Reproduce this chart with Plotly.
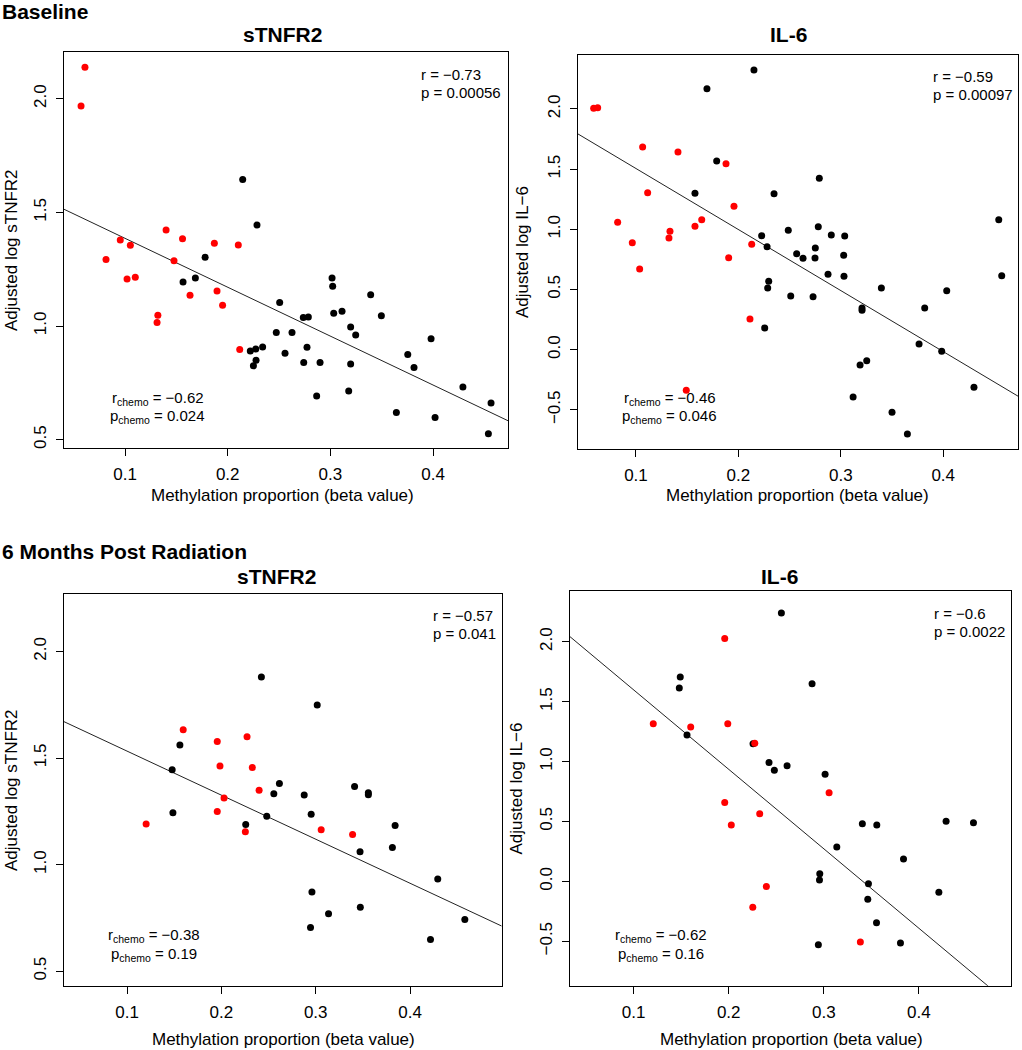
import plotly.graph_objects as go

W, H = 1022, 1050

# ---------------- DATA ----------------
# Baseline sTNFR2
b_stnfr2_red_x = [0.061, 0.0572, 0.140, 0.0954, 0.1052, 0.156, 0.187, 0.2103, 0.0815,
                  0.1477, 0.102, 0.110, 0.1633, 0.1896, 0.195, 0.132, 0.1312, 0.2117]
b_stnfr2_red_y = [2.138, 1.968, 1.422, 1.378, 1.355, 1.384, 1.364, 1.356, 1.293,
                  1.287, 1.207, 1.214, 1.135, 1.154, 1.091, 1.047, 1.015, 0.897]
b_stnfr2_blk_x = [0.2146, 0.2285, 0.178, 0.1565, 0.1685, 0.2506, 0.3016, 0.3022, 0.3032, 0.3113,
                  0.3392, 0.3496, 0.2736, 0.2785, 0.3197, 0.3246, 0.2473, 0.2626, 0.222, 0.2273,
                  0.234, 0.2276, 0.225, 0.2558, 0.2772, 0.274, 0.2899, 0.3197, 0.398, 0.3753,
                  0.3814, 0.2866, 0.3178, 0.429, 0.4564, 0.3642, 0.4019, 0.4538]
b_stnfr2_blk_y = [1.645, 1.444, 1.302, 1.194, 1.211, 1.103, 1.211, 1.175, 1.056, 1.065,
                  1.138, 1.045, 1.037, 1.040, 0.996, 0.960, 0.971, 0.971, 0.890, 0.899,
                  0.908, 0.849, 0.825, 0.880, 0.906, 0.840, 0.839, 0.833, 0.944, 0.875,
                  0.818, 0.692, 0.714, 0.732, 0.661, 0.619, 0.597, 0.526]
b_stnfr2_fit = (1.601, -2.152)  # intercept, slope

# Baseline IL-6
b_il6_red_x = [0.0587, 0.0626, 0.1065, 0.141, 0.1879, 0.1114, 0.1957, 0.0821, 0.1642,
               0.1576, 0.1332, 0.1322, 0.0964, 0.213, 0.1905, 0.1036, 0.2113, 0.1491]
b_il6_red_y = [2.005, 2.010, 1.684, 1.642, 1.545, 1.304, 1.191, 1.058, 1.080,
               1.025, 0.983, 0.928, 0.889, 0.875, 0.764, 0.670, 0.255, -0.337]
b_il6_blk_x = [0.2152, 0.1693, 0.1788, 0.279, 0.1576, 0.2348, 0.4542, 0.278, 0.2487, 0.2227,
               0.2907, 0.3038, 0.228, 0.2751, 0.2569, 0.2631, 0.2748, 0.3028, 0.2875, 0.3031,
               0.4571, 0.2296, 0.2286, 0.3396, 0.4034, 0.2511, 0.2729, 0.3819, 0.3207, 0.3207,
               0.2257, 0.3764, 0.3985, 0.3188, 0.3253, 0.312, 0.430, 0.350, 0.365]
b_il6_blk_y = [2.323, 2.168, 1.567, 1.424, 1.299, 1.296, 1.080, 1.022, 0.992, 0.947,
               0.953, 0.944, 0.855, 0.845, 0.797, 0.759, 0.762, 0.784, 0.626, 0.610,
               0.615, 0.568, 0.512, 0.512, 0.490, 0.446, 0.440, 0.346, 0.346, 0.327,
               0.180, 0.047, -0.012, -0.127, -0.091, -0.393, -0.313, -0.520, -0.700]
b_il6_fit = (2.012, -5.07)

# 6 months sTNFR2
m_stnfr2_red_x = [0.1595, 0.1956, 0.2272, 0.1985, 0.2328, 0.240, 0.2028, 0.1956, 0.1202,
                  0.2254, 0.3058, 0.3391]
m_stnfr2_red_y = [1.633, 1.578, 1.600, 1.462, 1.456, 1.349, 1.312, 1.249, 1.191,
                  1.154, 1.163, 1.141]
m_stnfr2_blk_x = [0.2424, 0.3016, 0.156, 0.1478, 0.2615, 0.2556, 0.2878, 0.3412, 0.3558, 0.3558,
                  0.1486, 0.2481, 0.2952, 0.2258, 0.3842, 0.3813, 0.347, 0.4294, 0.296, 0.3473,
                  0.3136, 0.4581, 0.2945, 0.4217]
m_stnfr2_blk_y = [1.880, 1.749, 1.561, 1.445, 1.381, 1.332, 1.326, 1.367, 1.337, 1.328,
                  1.243, 1.227, 1.236, 1.188, 1.183, 1.080, 1.060, 0.933, 0.872, 0.800,
                  0.770, 0.743, 0.705, 0.649]
m_stnfr2_fit = (1.739, -2.066)

# 6 months IL-6
m_il6_red_x = [0.1958, 0.1206, 0.160, 0.199, 0.2274, 0.3056, 0.1958, 0.2326, 0.2027,
               0.2396, 0.2253, 0.3385]
m_il6_red_y = [2.028, 1.316, 1.288, 1.316, 1.152, 0.740, 0.659, 0.564, 0.470,
               -0.042, -0.217, -0.507]
m_il6_blk_x = [0.2554, 0.149, 0.148, 0.2877, 0.1561, 0.2256, 0.2424, 0.248, 0.2614, 0.3014,
               0.3406, 0.3558, 0.4287, 0.4575, 0.3137, 0.3839, 0.2958, 0.2955, 0.347, 0.3463,
               0.4211, 0.3555, 0.2943, 0.3807]
m_il6_blk_y = [2.240, 1.705, 1.613, 1.649, 1.221, 1.149, 0.993, 0.927, 0.965, 0.893,
               0.481, 0.470, 0.501, 0.489, 0.286, 0.186, 0.063, 0.011, -0.020, -0.150,
               -0.092, -0.346, -0.529, -0.515]
m_il6_fit = (2.261, -6.63)

x_ticks = [0.1, 0.2, 0.3, 0.4]
stnfr2_y_ticks = [0.5, 1.0, 1.5, 2.0]
il6_y_ticks = [-0.5, 0.0, 0.5, 1.0, 1.5, 2.0]

panel_titles = ["sTNFR2", "IL-6", "sTNFR2", "IL-6"]
y_titles = ["Adjusted log sTNFR2", "Adjusted log IL\u22126", "Adjusted log sTNFR2", "Adjusted log IL\u22126"]
x_title = "Methylation proportion (beta value)"
r_texts = ["r = \u22120.73", "r = \u22120.59", "r = \u22120.57", "r = \u22120.6"]
p_texts = ["p = 0.00056", "p = 0.00097", "p = 0.041", "p = 0.0022"]
rchemo_texts = ["\u22120.62", "\u22120.46", "\u22120.38", "\u22120.62"]
pchemo_texts = ["0.024", "0.046", "0.19", "0.16"]
row_titles = ["Baseline", "6 Months Post Radiation"]

# ---------------- LAYOUT (pixel boxes) ----------------
FONT = "Liberation Sans, Arial, sans-serif"
# box: (left, top, right, bottom) in pixels
boxes = [(64, 52, 508, 448), (577.7, 55, 1018, 449),
         (63.7, 594.3, 501.7, 985.7), (570, 591.3, 1011, 985.7)]
xranges = [(0.0406, 0.4729), (0.0431, 0.4730), (0.0328, 0.4972), (0.0330, 0.4970)]
yranges = [(0.4633, 2.2055), (-0.825, 2.448), (0.432, 2.268), (-0.871, 2.421)]
yticks_list = [stnfr2_y_ticks, il6_y_ticks, stnfr2_y_ticks, il6_y_ticks]

panels = [
    (b_stnfr2_red_x, b_stnfr2_red_y, b_stnfr2_blk_x, b_stnfr2_blk_y, b_stnfr2_fit),
    (b_il6_red_x, b_il6_red_y, b_il6_blk_x, b_il6_blk_y, b_il6_fit),
    (m_stnfr2_red_x, m_stnfr2_red_y, m_stnfr2_blk_x, m_stnfr2_blk_y, m_stnfr2_fit),
    (m_il6_red_x, m_il6_red_y, m_il6_blk_x, m_il6_blk_y, m_il6_fit),
]

def px(x):
    return x / W

def py(y):
    return 1 - y / H

fig = go.Figure()
layout = dict(width=W, height=H, margin=dict(l=0, r=0, t=0, b=0),
              paper_bgcolor="white", plot_bgcolor="white", showlegend=False,
              font=dict(family=FONT, color="black", size=17))
annotations = []

for i, (rx, ry, bx, by, fit) in enumerate(panels):
    n = "" if i == 0 else str(i + 1)
    xa, ya = "x" + n, "y" + n
    l, t, r, b = boxes[i]
    axis_common = dict(showline=True, mirror=True, linecolor="black", linewidth=1,
                       ticks="outside", ticklen=7, tickcolor="black", tickwidth=1,
                       showgrid=False, zeroline=False, tickformat=".1f",
                       tickfont=dict(family=FONT, size=17, color="black"))
    layout["xaxis" + n] = dict(domain=[px(l), px(r)], range=list(xranges[i]),
                               anchor=ya, tickvals=x_ticks, ticklabelstandoff=4, **axis_common)
    layout["yaxis" + n] = dict(domain=[py(b), py(t)], range=list(yranges[i]),
                               anchor=xa, tickvals=yticks_list[i], tickangle=-90,
                               ticklabelstandoff=3, **axis_common)
    # fitted line
    x0, x1 = xranges[i]
    a, s = fit
    fig.add_trace(go.Scatter(x=[x0, x1], y=[a + s * x0, a + s * x1], mode="lines",
                             line=dict(color="#222222", width=1), xaxis=xa, yaxis=ya,
                             hoverinfo="skip"))
    fig.add_trace(go.Scatter(x=bx, y=by, mode="markers",
                             marker=dict(color="black", size=7), xaxis=xa, yaxis=ya))
    fig.add_trace(go.Scatter(x=rx, y=ry, mode="markers",
                             marker=dict(color="#ff0000", size=7), xaxis=xa, yaxis=ya))

# text placements (pixels)
title_pos = [(282, 35), (788, 35), (276, 576.5), (779, 576)]
ytitle_pos = [(11, 250), (522, 252), (11, 790), (516, 788.5)]
xtitle_pos = [(282, 496), (797, 496), (283, 1039), (791, 1039)]
rp_pos = [(419.3, 74), (930.7, 76.5), (431, 615.5), (931.7, 613)]
rch_pos = [(157.5, 398), (669.5, 398), (154, 935.5), (661, 935.5)]

SUB = '<span style="font-size:12px">chemo</span>'

for i in range(4):
    annotations.append(dict(text="<b>%s</b>" % panel_titles[i], x=px(title_pos[i][0]), y=py(title_pos[i][1]),
                            xref="paper", yref="paper", showarrow=False, xanchor="center", yanchor="middle",
                            font=dict(family=FONT, size=21, color="black")))
    annotations.append(dict(text=y_titles[i], x=px(ytitle_pos[i][0]), y=py(ytitle_pos[i][1]),
                            xref="paper", yref="paper", showarrow=False, textangle=-90,
                            xanchor="center", yanchor="middle",
                            font=dict(family=FONT, size=17, color="black")))
    annotations.append(dict(text=x_title, x=px(xtitle_pos[i][0]), y=py(xtitle_pos[i][1]),
                            xref="paper", yref="paper", showarrow=False,
                            xanchor="center", yanchor="middle",
                            font=dict(family=FONT, size=17, color="black")))
    rx0, ry0 = rp_pos[i]
    annotations.append(dict(text=r_texts[i], x=px(rx0), y=py(ry0), xref="paper", yref="paper",
                            showarrow=False, xanchor="left", yanchor="middle",
                            font=dict(family=FONT, size=15, color="black")))
    annotations.append(dict(text=p_texts[i], x=px(rx0), y=py(ry0 + 18.4), xref="paper", yref="paper",
                            showarrow=False, xanchor="left", yanchor="middle",
                            font=dict(family=FONT, size=15, color="black")))
    cx, cy = rch_pos[i]
    annotations.append(dict(text="r<sub>chemo</sub> = " + rchemo_texts[i], x=px(cx), y=py(cy),
                            xref="paper", yref="paper", showarrow=False, xanchor="center", yanchor="middle",
                            font=dict(family=FONT, size=15, color="black")))
    annotations.append(dict(text="p<sub>chemo</sub> = " + pchemo_texts[i], x=px(cx), y=py(cy + 18.8),
                            xref="paper", yref="paper", showarrow=False, xanchor="center", yanchor="middle",
                            font=dict(family=FONT, size=15, color="black")))

annotations.append(dict(text="<b>%s</b>" % row_titles[0], x=0, y=py(11.5), xref="paper", yref="paper",
                        showarrow=False, xanchor="left", yanchor="middle",
                        font=dict(family=FONT, size=21, color="black")))
annotations.append(dict(text="<b>%s</b>" % row_titles[1], x=0, y=py(551), xref="paper", yref="paper",
                        showarrow=False, xanchor="left", yanchor="middle",
                        font=dict(family=FONT, size=21, color="black")))

layout["annotations"] = annotations
fig.update_layout(**layout)
fig.write_html("out.html", config={"displayModeBar": False},
               post_script="document.body.style.margin='0';document.body.style.overflow='hidden';")
